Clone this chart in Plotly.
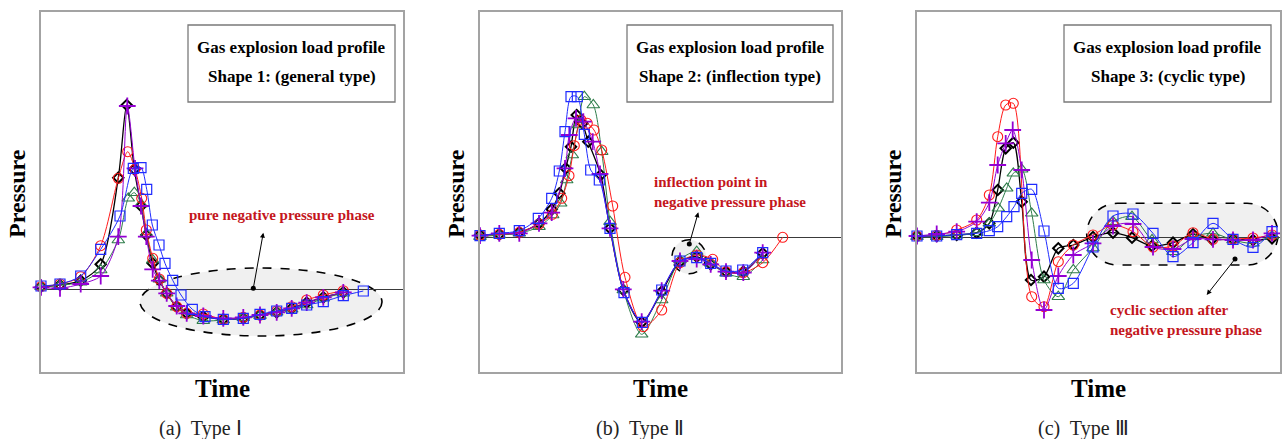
import plotly.graph_objects as go

W, H = 1282, 439

# ---------------- data (time, pressure in arbitrary units) ----------------
# Panel (a) Type I
a_red_t = [0, 1.9, 3.97, 5.97, 7.73, 8.67, 9.4, 10.07, 10.53, 11.17, 11.83, 12.57, 13.57, 14.57, 16.23, 18.23, 20.23, 21.9, 23.57, 25.07, 26.57, 28.23, 30.23]
a_red_p = [0.23, 0.5, 1.23, 4.33, 11.07, 13.73, 11.97, 9.07, 5.9, 3.07, 1.0, -0.43, -1.77, -2.43, -2.5, -3.03, -2.83, -2.6, -2.2, -1.77, -1.1, -0.6, -0.17]
a_green_t = [0, 1.9, 3.97, 5.97, 7.73, 8.73, 9.33, 10.0, 10.53, 11.17, 11.83, 12.57, 13.57, 14.57, 16.23, 18.23, 20.23, 21.9, 23.57, 25.07, 26.57, 28.23, 30.23]
a_green_p = [0.23, 0.4, 0.67, 1.9, 4.9, 9.07, 9.63, 8.5, 5.5, 2.9, 0.97, -0.43, -1.83, -2.6, -3.17, -3.1, -2.87, -2.67, -2.33, -2.03, -1.6, -0.93, -0.43]
a_blue_t = [0, 1.9, 3.97, 5.97, 7.9, 9.23, 10.0, 10.57, 11.13, 11.8, 12.4, 13.17, 14.0, 15.13, 16.4, 18.23, 20.23, 21.9, 23.57, 25.07, 26.57, 28.23, 30.23, 32.23]
a_blue_p = [0.3, 0.5, 1.3, 3.97, 7.3, 12.07, 12.13, 9.97, 6.4, 4.4, 2.57, 0.87, -0.6, -2.03, -2.77, -3.03, -2.93, -2.53, -2.2, -1.93, -1.6, -1.27, -0.67, -0.2]
a_purple_t = [0, 1.9, 3.97, 5.97, 7.73, 8.63, 9.4, 10.0, 10.53, 11.17, 11.83, 12.57, 13.57, 14.57, 16.23, 18.23, 20.23, 21.9, 23.57, 25.07, 26.57, 28.23, 30.23]
a_purple_p = [0.17, 0.07, 0.5, 1.3, 5.23, 18.3, 12.07, 8.3, 5.23, 1.97, 0.83, -0.43, -1.7, -2.43, -2.7, -2.93, -2.83, -2.6, -2.33, -1.93, -1.37, -0.83, -0.33]
a_black_t = [0, 1.9, 3.97, 5.97, 7.73, 8.57, 9.33, 10.0, 10.53, 11.17, 11.83, 12.57, 13.57, 14.57, 16.23, 18.23, 20.23, 21.9, 23.57, 25.07, 26.57, 28.23, 30.23]
a_black_p = [0.23, 0.4, 0.83, 2.47, 11.13, 18.4, 11.97, 8.3, 5.4, 2.57, 0.9, -0.43, -1.77, -2.43, -2.77, -3.03, -2.93, -2.6, -2.33, -1.93, -1.37, -0.83, -0.33]

# Panel (b) Type II
b_red_t = [0, 1.93, 3.93, 5.9, 7.23, 8.17, 8.9, 9.43, 10.1, 10.73, 11.4, 12.17, 13.27, 14.5, 16.33, 18.17, 20.0, 21.67, 23.27, 24.6, 26.33, 28.27, 30.27]
b_red_p = [0.2, 0.27, 0.47, 1.3, 2.27, 3.87, 6.13, 9.13, 11.7, 11.37, 10.7, 8.7, 3.1, -4.03, -8.97, -7.3, -2.57, -1.8, -2.23, -3.47, -3.57, -2.57, -0.03]
b_green_t = [0, 1.93, 3.93, 5.9, 7.27, 8.07, 8.67, 9.23, 9.83, 10.43, 11.33, 12.17, 13.0, 14.33, 16.17, 18.17, 20.0, 21.67, 23.07, 24.6, 26.33, 28.27]
b_green_p = [0.03, 0.2, 0.37, 1.03, 2.2, 3.37, 5.7, 8.2, 11.2, 14.03, 13.2, 8.53, 1.53, -5.3, -9.73, -6.3, -2.3, -1.47, -2.63, -3.63, -3.97, -2.3]
b_blue_t = [0, 1.93, 3.93, 5.83, 7.17, 7.93, 8.5, 9.1, 9.73, 10.43, 11.07, 11.93, 13.0, 14.4, 16.23, 18.17, 20.0, 21.67, 23.07, 24.6, 26.27, 28.27]
b_blue_p = [0.13, 0.37, 0.63, 1.87, 3.87, 6.6, 10.53, 14.03, 14.03, 10.27, 6.7, 5.7, 0.87, -5.57, -8.53, -5.3, -2.4, -2.07, -2.63, -3.4, -3.3, -1.57]
b_purple_t = [0, 1.93, 3.93, 5.9, 7.17, 8.5, 8.93, 9.6, 10.33, 11.27, 12.0, 13.0, 14.33, 16.17, 18.17, 20.0, 21.67, 23.07, 24.6, 26.33, 28.27]
b_purple_p = [0.13, 0.37, 0.37, 1.37, 2.43, 6.87, 10.2, 11.87, 11.53, 9.53, 6.3, 0.87, -5.23, -8.47, -5.37, -2.4, -2.2, -2.73, -3.47, -3.57, -1.57]
b_black_t = [0, 1.93, 3.93, 5.9, 7.17, 7.93, 8.57, 9.1, 9.67, 10.23, 10.83, 12.07, 13.0, 14.33, 16.17, 18.17, 20.0, 21.67, 23.07, 24.6, 26.33, 28.27]
b_black_p = [0.2, 0.27, 0.47, 1.37, 2.77, 4.37, 6.87, 9.03, 12.2, 11.37, 9.53, 6.2, 0.87, -5.3, -8.53, -5.47, -2.47, -1.97, -2.73, -3.47, -3.47, -1.63]

# Panel (c) Type III
c_red_t = [0, 1.97, 3.97, 5.97, 7.23, 8.07, 8.87, 9.63, 11.47, 12.7, 14.13, 15.63, 17.6, 19.6, 21.6, 23.6, 25.6, 27.6, 29.6, 31.6, 33.6, 35.5]
c_red_p = [0.1, 0.17, 0.7, 1.7, 4.2, 10.03, 13.2, 13.37, -5.97, -6.97, -2.47, -0.8, 0.2, 1.2, 0.53, -1.0, -0.9, 0.43, -0.23, -0.2, -0.1, 0.2]
c_green_t = [0, 1.97, 3.97, 5.97, 7.23, 8.13, 8.97, 9.63, 10.47, 11.47, 12.7, 14.13, 15.63, 17.6, 19.6, 21.5, 23.5, 25.6, 27.6, 29.6, 31.6, 33.6, 35.5]
c_green_p = [0.03, 0.03, 0.17, 0.43, 1.37, 2.87, 4.87, 6.37, 6.77, 2.37, -4.3, -5.97, -3.3, -1.1, 1.53, 2.03, -0.3, -1.47, 0.0, 0.37, -0.3, -0.63, 0.1]
c_blue_t = [0, 1.97, 3.97, 5.97, 7.23, 8.07, 8.97, 9.7, 10.47, 11.47, 12.7, 14.13, 15.63, 17.6, 19.6, 21.6, 23.6, 25.6, 27.6, 29.6, 31.6, 33.6, 35.5]
c_blue_p = [0.1, 0.1, 0.23, 0.37, 0.63, 1.03, 2.03, 3.03, 4.37, 4.77, 0.6, -5.13, -4.63, -1.0, 2.1, 2.3, 0.37, -1.97, -0.57, 1.37, -0.23, -1.03, 0.53]
c_purple_t = [0, 1.97, 3.97, 5.97, 7.23, 8.07, 8.87, 9.57, 10.47, 11.47, 12.7, 14.13, 15.63, 17.6, 19.6, 21.6, 23.6, 25.6, 27.6, 29.6, 31.6, 33.6, 35.5]
c_purple_p = [0.1, 0.3, 0.53, 1.53, 3.43, 7.2, 9.37, 10.7, 6.7, -2.3, -7.3, -3.9, -1.8, -0.63, 1.1, 1.3, -1.0, -1.2, -0.2, -0.23, -0.3, -0.3, 0.37]
c_black_t = [0, 1.97, 3.97, 5.97, 7.23, 8.07, 8.87, 9.63, 10.47, 11.4, 12.7, 14.13, 15.63, 17.6, 19.6, 21.5, 23.5, 25.6, 27.6, 29.5, 31.6, 33.6, 35.5]
c_black_p = [0.1, 0.1, 0.2, 0.43, 1.37, 4.7, 8.87, 9.43, 3.53, -4.3, -3.97, -1.13, -0.8, 0.0, 0.43, -0.07, -0.9, -0.57, 0.27, -0.23, -0.23, -0.3, -0.13]

captions = ["(a)  Type Ⅰ", "(b)  Type Ⅱ", "(c)  Type Ⅲ"]
shape_titles = ["Shape 1: (general type)", "Shape 2: (inflection type)", "Shape 3: (cyclic type)"]

# ---------------- styling ----------------
styles = {
    "red":    dict(symbol="circle-open", size=10, color="#ff1a1a", mlw=1.1, lw=1.0),
    "green":  dict(symbol="triangle-up-open", size=11, color="#2e7d4a", mlw=1.1, lw=1.0),
    "blue":   dict(symbol="square-open", size=10, color="#1f2bff", mlw=1.2, lw=1.0),
    "purple": dict(symbol="cross-thin-open", size=12, color="#9400d3", mlw=1.8, lw=1.0),
    "black":  dict(symbol="diamond-open", size=8, color="#000000", mlw=2.0, lw=1.3),
}

panels = [
    dict(series=[("black", a_black_t, a_black_p), ("green", a_green_t, a_green_p), ("red", a_red_t, a_red_p),
                 ("purple", a_purple_t, a_purple_p), ("blue", a_blue_t, a_blue_p)],
         px=(41, 403), zero=289, xmax=36.2),
    dict(series=[("black", b_black_t, b_black_p), ("green", b_green_t, b_green_p), ("red", b_red_t, b_red_p),
                 ("purple", b_purple_t, b_purple_p), ("blue", b_blue_t, b_blue_p)],
         px=(480, 841), zero=237, xmax=36.1),
    dict(series=[("black", c_black_t, c_black_p), ("green", c_green_t, c_green_p), ("red", c_red_t, c_red_p),
                 ("purple", c_purple_t, c_purple_p), ("blue", c_blue_t, c_blue_p)],
         px=(917, 1280), zero=237, xmax=36.3),
]

TOP, BOT = 12, 372
def PX(x): return x / W
def PY(y): return 1 - y / H

fig = go.Figure()
layout = dict(width=W, height=H, margin=dict(l=0, r=0, t=0, b=0),
              paper_bgcolor="white", plot_bgcolor="white", showlegend=False)

for i, pan in enumerate(panels):
    sfx = "" if i == 0 else str(i + 1)
    for name, t, p in pan["series"]:
        st = styles[name]
        fig.add_trace(go.Scatter(
            x=t, y=p, mode="lines+markers", xaxis="x" + sfx, yaxis="y" + sfx,
            line=dict(color=st["color"], width=st["lw"], shape="spline", smoothing=0.8),
            marker=dict(symbol=st["symbol"], size=st["size"], color=st["color"],
                        line=dict(color=st["color"], width=st["mlw"])),
            cliponaxis=False, hoverinfo="skip"))
    x0, x1 = pan["px"]
    ytop = (pan["zero"] - TOP) / 10
    ybot = (pan["zero"] - BOT) / 10
    layout["xaxis" + sfx] = dict(domain=[PX(x0), PX(x1)], range=[0, pan["xmax"]], anchor="y" + sfx,
                                 showticklabels=False, ticks="", showgrid=False, zeroline=False,
                                 showline=True, mirror=True, linecolor="#a3a3a3", linewidth=2)
    layout["yaxis" + sfx] = dict(domain=[PY(BOT), PY(TOP)], range=[ybot, ytop], anchor="x" + sfx,
                                 showticklabels=False, ticks="", showgrid=False, zeroline=True,
                                 zerolinecolor="#3a3a3a", zerolinewidth=1,
                                 showline=True, mirror=True, linecolor="#a3a3a3", linewidth=2)

fig.update_layout(**layout)

shapes = []
ann = []
serif = "Liberation Serif, Times New Roman, serif"
red_txt = "#c4161c"

# title boxes
boxes = [(188, 395), (627, 833), (1064, 1271)]
for (bx0, bx1), st in zip(boxes, shape_titles):
    shapes.append(dict(type="rect", xref="paper", yref="paper", x0=PX(bx0), x1=PX(bx1), y0=PY(102), y1=PY(25),
                       line=dict(color="#7a7a7a", width=1.3), fillcolor="white", layer="above"))
    cx = (bx0 + bx1) / 2
    ann.append(dict(xref="paper", yref="paper", x=PX(cx), y=PY(47), text="<b>Gas explosion load profile</b>",
                    showarrow=False, font=dict(family=serif, size=17, color="black"), xanchor="center", yanchor="middle"))
    ann.append(dict(xref="paper", yref="paper", x=PX(cx), y=PY(76), text="<b>" + st + "</b>",
                    showarrow=False, font=dict(family=serif, size=17, color="black"), xanchor="center", yanchor="middle"))

# axis titles & captions
cap_x = [200, 640, 1083]
for i, pan in enumerate(panels):
    x0, x1 = pan["px"]
    ann.append(dict(xref="paper", yref="paper", x=PX(x0 - 24), y=PY(194), text="<b>Pressure</b>", textangle=-90,
                    showarrow=False, font=dict(family=serif, size=24, color="black"), xanchor="center", yanchor="middle"))
    ann.append(dict(xref="paper", yref="paper", x=PX((x0 + x1) / 2), y=PY(388), text="<b>Time</b>",
                    showarrow=False, font=dict(family=serif, size=25, color="black"), xanchor="center", yanchor="middle"))
    ann.append(dict(xref="paper", yref="paper", x=PX(cap_x[i]), y=PY(428), text=captions[i],
                    showarrow=False, font=dict(family=serif, size=20, color="#222222"), xanchor="center", yanchor="middle"))

# panel (a): ellipse + arrow + label
shapes.append(dict(type="circle", xref="x", yref="y", x0=9.9, x1=34.1, y0=-4.7, y1=2.1,
                   line=dict(color="black", width=1.6, dash="dash"), fillcolor="#f0f0f0", layer="below"))
shapes.append(dict(type="circle", xref="x", yref="y", xsizemode="pixel", ysizemode="pixel",
                   xanchor=21.23, yanchor=0.07, x0=-2.5, x1=2.5, y0=-2.5, y1=2.5,
                   line=dict(color="black", width=0), fillcolor="black"))
ann.append(dict(xref="x", yref="y", axref="x", ayref="y", x=22.23, y=5.63, ax=21.23, ay=0.07, text="",
                showarrow=True, arrowhead=2, arrowsize=1, arrowwidth=1, arrowcolor="black"))
ann.append(dict(xref="paper", yref="paper", x=PX(282), y=PY(215), text="<b>pure negative pressure phase</b>",
                showarrow=False, font=dict(family=serif, size=15, color=red_txt), xanchor="center", yanchor="middle"))

# panel (b): circle + arrow + label
shapes.append(dict(type="circle", xref="x2", yref="y2", x0=19.2, x1=22.6, y0=-3.67, y1=-0.27,
                   line=dict(color="black", width=1.6, dash="dash"), fillcolor="#f0f0f0", layer="below"))
shapes.append(dict(type="circle", xref="x2", yref="y2", xsizemode="pixel", ysizemode="pixel",
                   xanchor=20.93, yanchor=-0.7, x0=-2.5, x1=2.5, y0=-2.5, y1=2.5,
                   line=dict(color="black", width=0), fillcolor="black"))
ann.append(dict(xref="x2", yref="y2", axref="x2", ayref="y2", x=21.83, y=2.47, ax=20.93, ay=-0.7, text="",
                showarrow=True, arrowhead=2, arrowsize=1, arrowwidth=1, arrowcolor="black"))
ann.append(dict(xref="paper", yref="paper", x=PX(652), y=PY(191.5),
                text="<b>inflection point in<br>negative pressure phase</b>", align="left",
                showarrow=False, font=dict(family=serif, size=15, color=red_txt), xanchor="left", yanchor="middle"))

# panel (c): stadium + arrow + label
xl, xr, yt, yb = 16.97, 36.1, 3.37, -2.8
r = (yt - yb) / 2
yc = (yt + yb) / 2
k = 0.5523 * r
lc, rc = xl + r, xr - r
path = (f"M {lc},{yt} L {rc},{yt} C {rc + k},{yt} {xr},{yc + k} {xr},{yc} "
        f"C {xr},{yc - k} {rc + k},{yb} {rc},{yb} L {lc},{yb} "
        f"C {lc - k},{yb} {xl},{yc - k} {xl},{yc} C {xl},{yc + k} {lc - k},{yt} {lc},{yt} Z")
shapes.append(dict(type="path", xref="x3", yref="y3", path=path,
                   line=dict(color="black", width=1.6, dash="dash"), fillcolor="#f0f0f0", layer="below"))
shapes.append(dict(type="circle", xref="x3", yref="y3", xsizemode="pixel", ysizemode="pixel",
                   xanchor=31.8, yanchor=-2.2, x0=-2.5, x1=2.5, y0=-2.5, y1=2.5,
                   line=dict(color="black", width=0), fillcolor="black"))
ann.append(dict(xref="x3", yref="y3", axref="x3", ayref="y3", x=28.97, y=-5.8, ax=31.8, ay=-2.2, text="",
                showarrow=True, arrowhead=2, arrowsize=1, arrowwidth=1, arrowcolor="black"))
ann.append(dict(xref="paper", yref="paper", x=PX(1108), y=PY(320),
                text="<b>cyclic section after<br>negative pressure phase</b>", align="left",
                showarrow=False, font=dict(family=serif, size=15, color=red_txt), xanchor="left", yanchor="middle"))

fig.update_layout(shapes=shapes, annotations=ann)
fig.write_html("out.html")
